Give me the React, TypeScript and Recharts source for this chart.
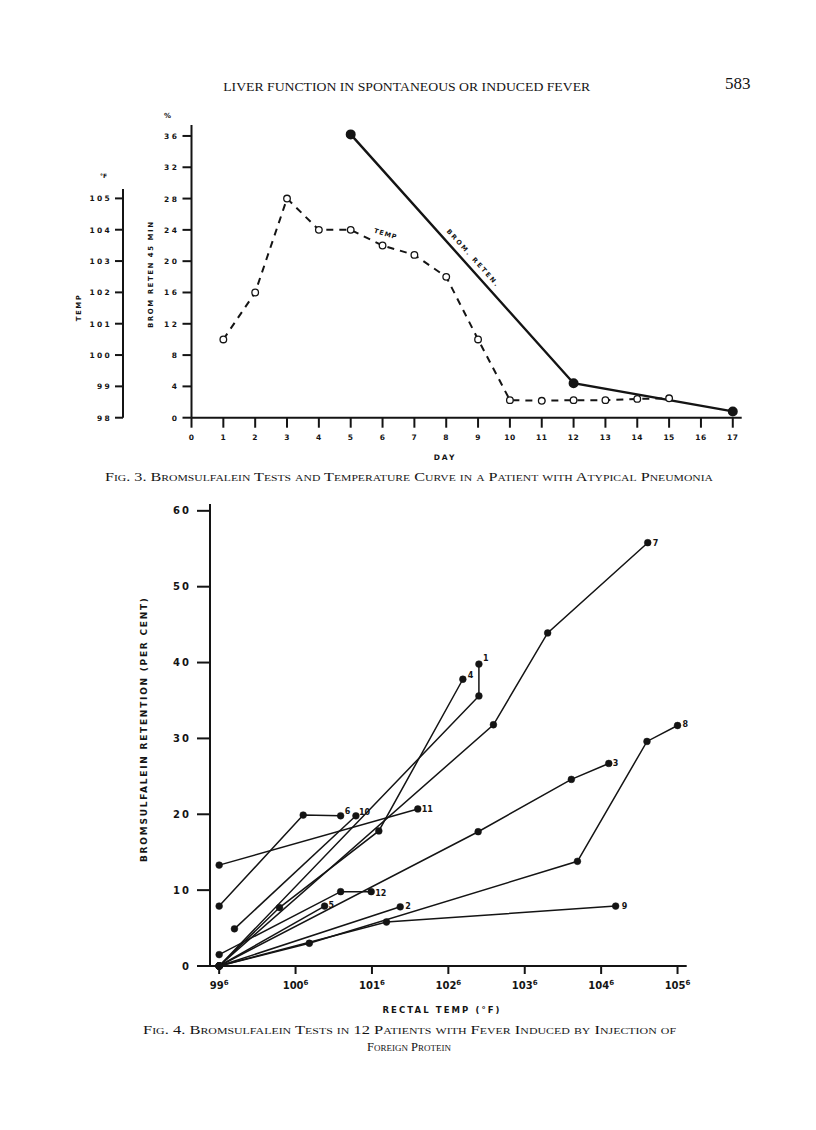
import { LineChart, Line, XAxis, YAxis, LabelList } from 'recharts';

// Fig. 3 - one patient with atypical pneumonia
const dayNumbers = [1, 2, 3, 4, 5, 6, 7, 8, 9, 10, 11, 12, 13, 14, 15];
const temperatureF = [100.5, 102, 105, 104, 104, 103.5, 103.2, 102.5, 100.5, 98.56, 98.54, 98.56, 98.56, 98.6, 98.62];
const bromDays = [5, 12, 17];
const bromRetention = [36.2, 4.4, 0.8];
const dayTicks = [0, 1, 2, 3, 4, 5, 6, 7, 8, 9, 10, 11, 12, 13, 14, 15, 16, 17];
const bromTicks = [0, 4, 8, 12, 16, 20, 24, 28, 32, 36];
const tempTicks = [98, 99, 100, 101, 102, 103, 104, 105];

// Fig. 4 - twelve patients, rectal temp vs retention
const patientLabels = ['1', '2', '3', '4', '5', '6', '7', '8', '9', '10', '11', '12'];
const rectalTemps = [
  [99.6, 103.0, 103.0],
  [99.6, 101.97],
  [99.6, 102.99, 104.21, 104.7],
  [99.6, 100.39, 101.69, 102.79],
  [99.6, 100.98],
  [99.6, 100.7, 101.19],
  [99.6, 103.19, 103.9, 105.21],
  [99.6, 100.78, 104.29, 105.2, 105.6],
  [99.6, 101.79, 104.79],
  [99.8, 101.39],
  [99.6, 102.2],
  [99.6, 101.19, 101.59],
];
const retentions = [
  [0, 35.6, 39.8],
  [0, 7.8],
  [0, 17.7, 24.6, 26.7],
  [0, 7.7, 17.8, 37.8],
  [0, 7.9],
  [7.9, 19.9, 19.8],
  [0, 31.8, 43.9, 55.8],
  [0, 3.0, 13.8, 29.6, 31.7],
  [0, 5.8, 7.9],
  [4.9, 19.8],
  [13.3, 20.7],
  [1.5, 9.8, 9.8],
];
const rectalTicks = [99.6, 100.6, 101.6, 102.6, 103.6, 104.6, 105.6];
const retentionTicks = [0, 10, 20, 30, 40, 50, 60];

// where each patient number sits next to its last dot
const tagOffsets: Record<string, [number, number]> = {
  '1': [4, -3], '2': [5, 2], '3': [4, 3], '4': [5, -1], '5': [4, 2], '6': [4, -2],
  '7': [5, 3], '8': [5, 1], '9': [6, 3], '10': [3, -1], '11': [4, 3], '12': [4, 4],
};

const INK = '#141414';
const LETTER = 'DejaVu Sans, sans-serif';
const SERIF = 'Liberation Serif, Times New Roman, serif';

const tempSeries = dayNumbers.map((d, i) => ({ day: d, temp: temperatureF[i] }));
const bromSeries = bromDays.map((d, i) => ({ day: d, brom: bromRetention[i] }));
const patientSeries = patientLabels.map((name, p) =>
  rectalTemps[p].map((t, i) => ({
    t,
    r: retentions[p][i],
    tag: i === rectalTemps[p].length - 1 ? name : '',
  }))
);

const SmallTick = ({ x, y, payload, anchor, dy, size, spacing }: any) => (
  <text
    x={x}
    y={y}
    dy={dy}
    textAnchor={anchor}
    fontFamily={LETTER}
    fontWeight={700}
    fontSize={size}
    letterSpacing={spacing}
    fill={INK}
  >
    {payload.value}
  </text>
);

const RectalTick = ({ x, y, payload }: any) => {
  const whole = Math.floor(payload.value + 0.001);
  const tenth = Math.round((payload.value - whole) * 10);
  return (
    <text x={x} y={y + 15} textAnchor="middle" fontFamily={LETTER} fontWeight={700} fontSize={10} fill={INK}>
      <tspan>{whole}</tspan>
      <tspan dy={-4} fontSize={7}>{tenth}</tspan>
    </text>
  );
};

const renderTag = (props: any) => {
  const { x, y, value } = props;
  if (!value) return null;
  const [dx, dy] = tagOffsets[value] || [5, 3];
  return (
    <text x={x + dx} y={y + dy} fontFamily={LETTER} fontWeight={700} fontSize={8} fill={INK}>
      {value}
    </text>
  );
};

const axisStyle = { stroke: INK, strokeWidth: 2 };

const TempAxisChart = () => (
  <div style={{ position: 'absolute', left: 73, top: 182, width: 70, height: 250 }}>
    <LineChart width={70} height={250} data={[{ day: 0, t: 100 }]} margin={{ top: 7, right: 10, bottom: 14.3, left: 0 }}>
      <XAxis dataKey="day" type="number" domain={[0, 1]} hide />
      <YAxis
        type="number"
        domain={[98, 105.3]}
        allowDataOverflow
        ticks={tempTicks}
        interval={0}
        width={50}
        axisLine={axisStyle}
        tickLine={axisStyle}
        tickSize={8}
        tickMargin={3}
        tick={<SmallTick anchor="end" dy={3} size={7.5} spacing={2.3} />}
      />
      <Line dataKey="t" hide stroke="none" dot={false} activeDot={false} isAnimationActive={false} />
    </LineChart>
  </div>
);

const Fig3Chart = () => (
  <div style={{ position: 'absolute', left: 101, top: 115, width: 660, height: 340 }}>
    <LineChart width={660} height={340} margin={{ top: 10, right: 19.3, bottom: 7.3, left: 0 }}>
      <XAxis
        dataKey="day"
        type="number"
        domain={[0, 17.28]}
        ticks={dayTicks}
        interval={0}
        height={30}
        axisLine={axisStyle}
        tickLine={axisStyle}
        tickSize={10}
        tickMargin={2}
        tick={<SmallTick anchor="middle" dy={10} size={7.5} spacing={0.5} />}
      />
      <YAxis
        yAxisId="brom"
        type="number"
        domain={[0, 37.4]}
        ticks={bromTicks}
        interval={0}
        width={90.5}
        axisLine={axisStyle}
        tickLine={axisStyle}
        tickSize={9}
        tickMargin={3}
        tick={<SmallTick anchor="end" dy={3} size={7.5} spacing={2.5} />}
      />
      <YAxis yAxisId="temp" type="number" domain={[98, 107.35]} hide />
      <Line
        yAxisId="temp"
        data={tempSeries}
        dataKey="temp"
        stroke={INK}
        strokeWidth={2}
        strokeDasharray="7 6"
        dot={{ r: 3.3, fill: '#fff', stroke: INK, strokeWidth: 1.3, strokeDasharray: 'none' }}
        activeDot={false}
        isAnimationActive={false}
      />
      <Line
        yAxisId="brom"
        data={bromSeries}
        dataKey="brom"
        stroke={INK}
        strokeWidth={2.4}
        dot={{ r: 3.8, fill: INK, stroke: INK }}
        activeDot={false}
        isAnimationActive={false}
      />
    </LineChart>
  </div>
);

const Fig4Chart = () => (
  <div style={{ position: 'absolute', left: 140, top: 494, width: 570, height: 530 }}>
    <LineChart width={570} height={530} margin={{ top: 10, right: 23.3, bottom: 28, left: 0 }}>
      <XAxis
        dataKey="t"
        type="number"
        domain={[99.48, 105.72]}
        ticks={rectalTicks}
        interval={0}
        height={30}
        axisLine={axisStyle}
        tickLine={axisStyle}
        tickSize={8}
        tickMargin={0}
        tick={<RectalTick />}
      />
      <YAxis
        type="number"
        domain={[0, 60.9]}
        ticks={retentionTicks}
        interval={0}
        width={70}
        axisLine={axisStyle}
        tickLine={axisStyle}
        tickSize={13}
        tickMargin={6}
        tick={<SmallTick anchor="end" dy={3.5} size={10} spacing={2} />}
      />
      {patientSeries.map((series, p) => (
        <Line
          key={patientLabels[p]}
          data={series}
          dataKey="r"
          stroke={INK}
          strokeWidth={1.5}
          dot={{ r: 3.4, fill: INK, stroke: INK, strokeWidth: 0.5 }}
          activeDot={false}
          isAnimationActive={false}
        >
          <LabelList dataKey="tag" content={renderTag} />
        </Line>
      ))}
    </LineChart>
  </div>
);

const PageText = () => (
  <svg width={816} height={1130} style={{ position: 'absolute', left: 0, top: 0, pointerEvents: 'none' }}>
    <text x={406.7} y={90.5} textAnchor="middle" fontFamily={SERIF} fontSize={12.5} textLength={367} lengthAdjust="spacingAndGlyphs" fill={INK}>
      LIVER FUNCTION IN SPONTANEOUS OR INDUCED FEVER
    </text>
    <text x={725} y={89} fontFamily={SERIF} fontSize={17} fill={INK}>583</text>

    <text x={100} y={178} fontFamily={LETTER} fontWeight={700} fontSize={6} fill={INK}>°F</text>
    <text x={164} y={118} fontFamily={LETTER} fontWeight={700} fontSize={7} fill={INK}>%</text>
    <text transform="translate(81,307.5) rotate(-90)" textAnchor="middle" fontFamily={LETTER} fontWeight={700} fontSize={7} letterSpacing={1.5} fill={INK}>
      TEMP
    </text>
    <text transform="translate(153,275) rotate(-90)" textAnchor="middle" fontFamily={LETTER} fontWeight={700} fontSize={7} textLength={106} fill={INK}>
      BROM RETEN 45 MIN
    </text>
    <text x={445} y={459.5} textAnchor="middle" fontFamily={LETTER} fontWeight={700} fontSize={7.5} letterSpacing={2} fill={INK}>DAY</text>
    <text transform="translate(385,236) rotate(17)" textAnchor="middle" fontFamily={LETTER} fontWeight={700} fontSize={6.5} letterSpacing={1} fill={INK}>
      TEMP
    </text>
    <text transform="translate(471,259) rotate(48)" textAnchor="middle" fontFamily={LETTER} fontWeight={700} fontSize={6.5} textLength={74} fill={INK}>
      BROM. RETEN.
    </text>
    <text x={105} y={481} fontFamily={SERIF} fontSize={12.5} fontVariant="small-caps" textLength={608} lengthAdjust="spacingAndGlyphs" fill={INK}>
      Fig. 3.  Bromsulfalein Tests and Temperature Curve in a Patient with Atypical Pneumonia
    </text>

    <text transform="translate(147,730) rotate(-90)" textAnchor="middle" fontFamily={LETTER} fontWeight={700} fontSize={9} textLength={264} fill={INK}>
      BROMSULFALEIN RETENTION (PER CENT)
    </text>
    <text x={441} y={1013} textAnchor="middle" fontFamily={LETTER} fontWeight={700} fontSize={8.5} textLength={117} fill={INK}>
      RECTAL  TEMP  (°F)
    </text>
    <text x={143} y={1034} fontFamily={SERIF} fontSize={12.5} fontVariant="small-caps" textLength={533} lengthAdjust="spacingAndGlyphs" fill={INK}>
      Fig. 4.  Bromsulfalein Tests in 12 Patients with Fever Induced by Injection of
    </text>
    <text x={409} y={1051} textAnchor="middle" fontFamily={SERIF} fontSize={12.5} fontVariant="small-caps" fill={INK}>
      Foreign Protein
    </text>
  </svg>
);

export default function App() {
  return (
    <div style={{ position: 'absolute', left: 0, top: 0, width: 816, height: 1130, background: '#fff' }}>
      <TempAxisChart />
      <Fig3Chart />
      <Fig4Chart />
      <PageText />
    </div>
  );
}
